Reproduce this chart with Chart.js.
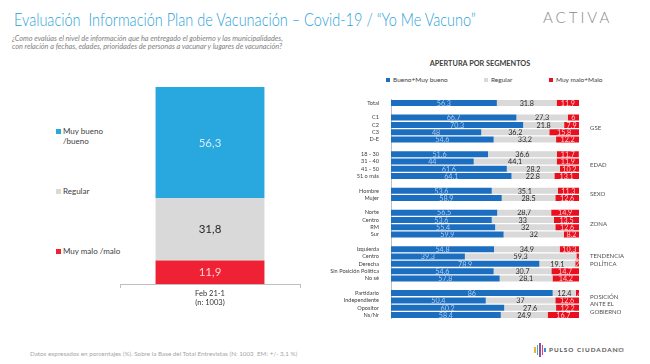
<!DOCTYPE html>
<html><head><meta charset="utf-8">
<script src="https://cdn.jsdelivr.net/npm/chart.js@4.4.0/dist/chart.umd.min.js"></script>
<style>
html,body{margin:0;padding:0;background:#fff;width:650px;height:364px;overflow:hidden;font-family:Lato,"Open Sans",sans-serif;}
.abs{position:absolute;white-space:pre;line-height:1;}
#title{left:14px;top:11px;font-size:17.5px;color:#2B9FD8;font-weight:300;transform:scaleX(0.83);transform-origin:0 0;}
#sub{left:12px;top:35px;font-size:7.3px;color:#808080;font-style:italic;line-height:8px;}
#activa{left:543px;top:10px;font-size:15px;color:#8a8a8a;letter-spacing:3px;font-weight:300;}
#footer{left:30px;top:351px;font-size:6.3px;color:#a6a6a6;}
#pulso{left:549px;top:347px;font-size:6.3px;color:#555;letter-spacing:1px;font-weight:bold;}
#page{left:612px;top:347px;font-size:6.3px;color:#bbb;}
.sq{position:absolute;width:5px;height:5px;}
.lg{position:absolute;white-space:pre;font-size:8px;color:#404040;line-height:10px;}
.lg2{position:absolute;white-space:pre;font-size:6.5px;color:#404040;line-height:1;}
#segtitle{left:420px;top:60px;width:120px;text-align:center;font-size:7.3px;color:#404040;font-weight:bold;}
.logo{position:absolute;width:1.5px;}
</style></head>
<body>
<div id="title" class="abs">Evaluación  Información Plan de Vacunación – Covid-19 / “Yo Me Vacuno”</div>
<div id="sub" class="abs">¿Como evalúas el nivel de información que ha entregado el gobierno y las municipalidades,
con relación a fechas, edades, prioridades de personas a vacunar y lugares de vacunación?</div>
<div id="activa" class="abs">ACTIVA</div>

<div class="sq" style="left:56px;top:129px;background:#29A8E0"></div>
<div class="lg" style="left:63px;top:126px">Muy bueno
/bueno</div>
<div class="sq" style="left:56px;top:189px;background:#D9D9D9"></div>
<div class="lg" style="left:63px;top:186px">Regular</div>
<div class="sq" style="left:56px;top:249px;background:#EE2234"></div>
<div class="lg" style="left:63px;top:246px">Muy malo /malo</div>

<div id="segtitle" class="abs">APERTURA POR SEGMENTOS</div>
<div class="sq" style="left:386px;top:78px;width:4px;height:4px;background:#1C6EC0"></div>
<div class="lg2" style="left:393px;top:77px">Bueno+Muy bueno</div>
<div class="sq" style="left:484px;top:78px;width:4px;height:4px;background:#D9D9D9"></div>
<div class="lg2" style="left:491px;top:77px">Regular</div>
<div class="sq" style="left:549px;top:78px;width:4px;height:4px;background:#E8101E"></div>
<div class="lg2" style="left:556px;top:77px">Muy malo+Malo</div>

<canvas id="left" width="184" height="227" style="position:absolute;left:118px;top:87px"></canvas>
<canvas id="right" width="320" height="240" style="position:absolute;left:330px;top:90px"></canvas>

<div id="footer" class="abs">Datos expresados en porcentajes (%). Sobre la Base del Total Entrevistas (N: 1003  EM: +/- 3,1 %)</div>
<div class="logo" style="left:534px;top:347px;height:6px;background:#f2b134"></div>
<div class="logo" style="left:536.5px;top:345px;height:10px;background:#3cb4a8"></div>
<div class="logo" style="left:539px;top:343px;height:14px;background:#8e4fa0"></div>
<div class="logo" style="left:541.5px;top:345px;height:10px;background:#e23d7a"></div>
<div class="logo" style="left:544px;top:348px;height:4px;background:#3b8fd0"></div>
<div id="pulso" class="abs">PULSO CIUDADANO</div>
<div id="page" class="abs">|  52</div>

<script>
// ---- Data: overall total (left chart)
const totalCategory = ['Feb 21-1', '(n: 1003)'];
const totalSeries = ['Muy bueno /bueno', 'Regular', 'Muy malo /malo'];
const totalValues = [56.3, 31.8, 11.9];

// ---- Data: segments (right chart); '' = spacer rows between groups
const segmentLabels = ['Total', '', 'C1', 'C2', 'C3', 'D-E', '', '18 - 30', '31 - 40', '41 - 50', '51 o más', '',
  'Hombre', 'Mujer', '', 'Norte', 'Centro', 'RM', 'Sur', '', 'Izquierda', 'Centro', 'Derecha',
  'Sin Posición Política', 'No sé', '', 'Partidario', 'Independiente', 'Opositor', 'Ns/Nr'];
const segmentSeries = ['Bueno+Muy bueno', 'Regular', 'Muy malo+Malo'];
const buenoValues = [56.3, null, 66.7, 70.3, 48, 54.6, null, 51.6, 44, 61.6, 64.1, null, 53.6, 58.9, null,
  56.5, 53.6, 55.4, 59.9, null, 54.8, 39.3, 78.9, 54.6, 57.8, null, 86, 50.4, 60.2, 58.4];
const regularValues = [31.8, null, 27.3, 21.8, 36.2, 33.2, null, 36.6, 44.1, 28.2, 22.8, null, 35.1, 28.5, null,
  28.7, 33, 32, 32, null, 34.9, 59.3, 19.1, 30.7, 28.1, null, 12.4, 37, 27.6, 24.9];
const maloValues = [11.9, null, 6, 7.9, 15.8, 12.2, null, 11.7, 11.9, 10.2, 13.1, null, 11.3, 12.6, null,
  14.9, 13.5, 12.6, 8.2, null, 10.3, 1.4, 2, 14.7, 14.2, null, 1.6, 12.6, 12.2, 16.7];
const groupNames = [['GSE'], ['EDAD'], ['SEXO'], ['ZONA'], ['TENDENCIA', 'POLÍTICA'], ['POSICIÓN', 'ANTE EL', 'GOBIERNO']];
const groupRows = [[2, 5], [7, 10], [12, 13], [15, 18], [20, 24], [26, 29]];

// ---- Styles
const FONT = 'Lato, "Open Sans", sans-serif';
const leftColors = ['#29A8E0', '#D9D9D9', '#EE2234'];
const leftText = ['#D6ECFA', '#262626', '#FFD0D5'];
const rightColors = ['#1C6EC0', '#D9D9D9', '#E8101E'];
const rightText = ['#A9CBEE', '#262626', '#FFC9CD'];
const groupShift = [0, 0, 0, 0, -3.6, 0];

function fmt(v) { return String(v).replace('.', ','); }

function labelPlugin(fontSize) {
  return {
    id: 'segLabels',
    afterDatasetsDraw(chart) {
      const ctx = chart.ctx;
      const horiz = chart.options.indexAxis === 'y';
      chart.data.datasets.forEach((ds, di) => {
        const meta = chart.getDatasetMeta(di);
        meta.data.forEach((el, i) => {
          const v = ds.data[i];
          if (v === null || v === undefined) return;
          const p = el.getProps(['x', 'y', 'base', 'width', 'height'], true);
          let x0, x1, y0, y1;
          if (horiz) { x0 = Math.min(p.base, p.x); x1 = Math.max(p.base, p.x); y0 = p.y - p.height / 2; y1 = p.y + p.height / 2; }
          else { y0 = Math.min(p.base, p.y); y1 = Math.max(p.base, p.y); x0 = p.x - p.width / 2; x1 = p.x + p.width / 2; }
          ctx.save();
          ctx.beginPath(); ctx.rect(x0, y0, x1 - x0, y1 - y0); ctx.clip();
          ctx.fillStyle = ds.textColor;
          ctx.font = fontSize + 'px ' + FONT;
          ctx.textAlign = 'center'; ctx.textBaseline = 'middle';
          ctx.fillText(fmt(v), (x0 + x1) / 2, (y0 + y1) / 2 + 0.5);
          ctx.restore();
        });
      });
    }
  };
}

// Left chart: stacked single bar (bottom-first order)
const leftOrder = [2, 1, 0];
new Chart(document.getElementById('left'), {
  type: 'bar',
  data: {
    labels: [totalCategory],
    datasets: leftOrder.map(i => ({
      label: totalSeries[i], data: [totalValues[i]], backgroundColor: leftColors[i],
      textColor: leftText[i], barPercentage: 0.605, categoryPercentage: 1
    }))
  },
  options: {
    responsive: false, animation: false, devicePixelRatio: 1,
    layout: { padding: { left: 2, right: 2, top: 0, bottom: 0 } },
    plugins: { legend: { display: false }, tooltip: { enabled: false } },
    scales: {
      x: {
        stacked: true,
        grid: { display: true, drawOnChartArea: false, drawTicks: true, tickLength: 4, color: '#bfbfbf' },
        border: { display: true, color: '#bfbfbf' },
        ticks: { color: '#333', font: { size: 7.5, family: FONT }, padding: 1 },
        afterFit(s) { s.height = 30; }
      },
      y: { stacked: true, display: false, min: 0, max: 100 }
    }
  },
  plugins: [labelPlugin(11.5)]
});

// Right chart: horizontal 100% stacked bars by segment
const segValues = [buenoValues, regularValues, maloValues];
new Chart(document.getElementById('right'), {
  type: 'bar',
  data: {
    labels: segmentLabels,
    datasets: segmentSeries.map((s, i) => ({
      label: s, data: segValues[i], backgroundColor: rightColors[i], textColor: rightText[i],
      barPercentage: 0.82, categoryPercentage: 1
    }))
  },
  options: {
    indexAxis: 'y', responsive: false, animation: false, devicePixelRatio: 1,
    layout: { padding: { left: 0, right: 71, top: 9.3, bottom: 11.3 } },
    plugins: { legend: { display: false }, tooltip: { enabled: false } },
    scales: {
      x: { stacked: true, display: false, min: 0, max: 100 },
      y: {
        stacked: true,
        grid: { display: false },
        border: { display: true, color: '#bfbfbf' },
        ticks: { color: '#404040', font: { size: 5.6, family: FONT }, padding: 4, autoSkip: false },
        afterFit(s) { s.width = 61; }
      }
    }
  },
  plugins: [labelPlugin(7.2), {
    id: 'groups',
    afterDraw(chart) {
      const ctx = chart.ctx, y = chart.scales.y;
      ctx.save();
      ctx.fillStyle = '#505050';
      ctx.font = '6px ' + FONT;
      ctx.textAlign = 'left'; ctx.textBaseline = 'middle';
      groupNames.forEach((lines, g) => {
        const r = groupRows[g];
        const cy = (y.getPixelForValue(r[0]) + y.getPixelForValue(r[1])) / 2 + groupShift[g];
        const step = 7.5;
        lines.forEach((t, k) => {
          ctx.fillText(t, chart.chartArea.right + 11, cy + (k - (lines.length - 1) / 2) * step);
        });
      });
      ctx.restore();
    }
  }]
});
</script>
</body></html>
